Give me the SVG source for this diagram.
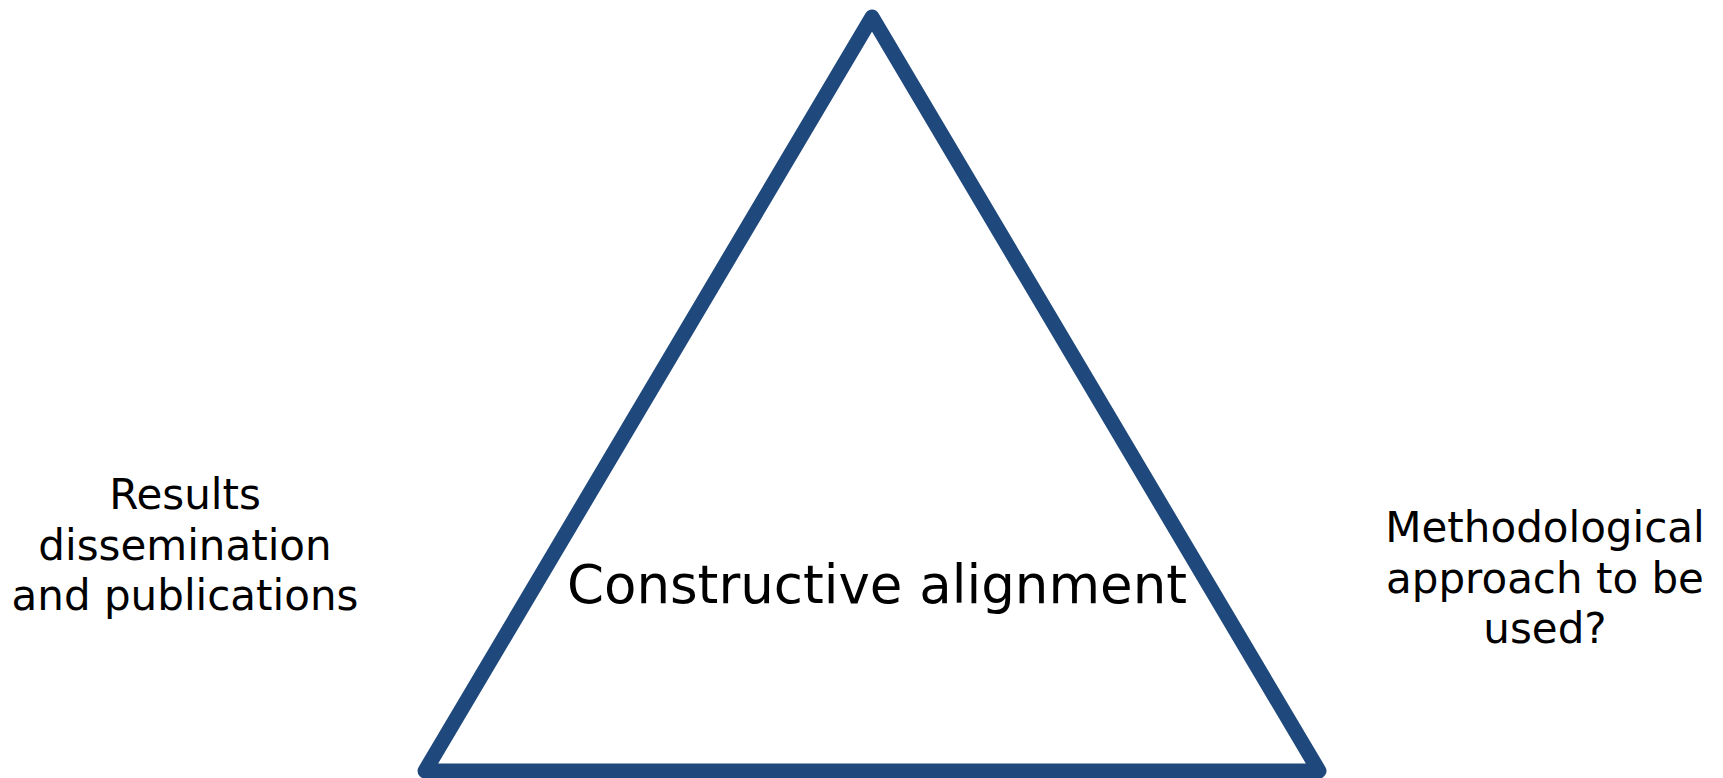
<svg xmlns="http://www.w3.org/2000/svg" width="1723" height="778" viewBox="0 0 1723 778">
<style>
.lbl{font-family:"DejaVu Sans",Verdana,sans-serif;fill:#000;text-anchor:middle}
.side{font-size:42px}
.main{font-size:53px}
.tri{fill:none;stroke:#1f497d;stroke-width:15;stroke-linejoin:round}
</style>
<rect width="1723" height="778" fill="#fff"/>
<g id="triangle">
<polygon class="tri" points="872,17 1319,771 425,771"/>
<text class="lbl main" x="877" y="603">Constructive alignment</text>
</g>
<g id="left-label">
<text class="lbl side" x="185" y="509">Results</text>
<text class="lbl side" x="185" y="560">dissemination</text>
<text class="lbl side" x="185" y="610">and publications</text>
</g>
<g id="right-label">
<text class="lbl side" x="1545" y="542">Methodological</text>
<text class="lbl side" x="1545" y="593">approach to be</text>
<text class="lbl side" x="1545" y="643">used?</text>
</g>
<g id="connectors"></g>
</svg>
